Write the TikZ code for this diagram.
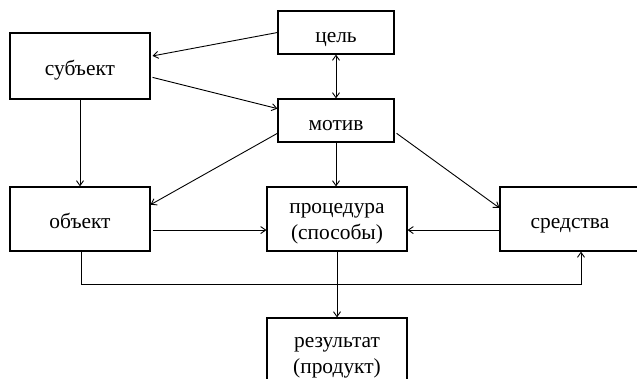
\documentclass[tikz,border=0pt]{standalone}
\usepackage{fontspec}
\setmainfont{Liberation Serif}
\usetikzlibrary{arrows.meta,calc}
\begin{document}
\begin{tikzpicture}[x=1bp,y=-1bp,
  box/.style={draw,line width=1.1bp,minimum width=140bp,minimum height=64bp,inner sep=0pt},
  txt/.style={align=center,inner sep=0pt,yshift=-5bp,font=\fontsize{21.5}{26}\selectfont},
  txtone/.style={txt,text height=14bp,text depth=5bp},
  conn/.style={line width=0.9bp,-{Straight Barb[length=5bp,width=7bp]}},
  biconn/.style={line width=0.9bp,{Straight Barb[length=5bp,width=7bp]}-{Straight Barb[length=5bp,width=7bp]}}]
\useasboundingbox (0,0) rectangle (637,378);
\node[box,minimum height=66bp,label={[txtone]center:субъект}] (subj) at (80,66) {};
\node[box,minimum width=116bp,minimum height=43bp,label={[txtone]center:цель}] (goal) at (336,32.5) {};
\node[box,minimum width=116bp,minimum height=43bp,label={[txtone]center:мотив}] (motiv) at (336,120.5) {};
\node[box,label={[txtone]center:объект}] (obj) at (80,219) {};
\node[box,label={[txt]center:{процедура\\(способы)}}] (proc) at (337,219) {};
\node[box,label={[txtone]center:средства}] (sred) at (570,219) {};
\node[box,minimum height=76bp,label={[txt,yshift=3bp]center:{результат\\(продукт)}}] (res) at (337,356) {};
% connectors
\draw[conn] (goal.west) -- ($(subj.north east)!0.35!(subj.south east)+(2,0)$);
\draw[conn] ($(subj.north east)!0.67!(subj.south east)+(2,0)$) -- ($(motiv.north west)!0.23!(motiv.south west)$);
\draw[biconn] (goal.south) -- (motiv.north);
\draw[conn] (subj.south) -- (obj.north);
\draw[conn] ($(motiv.north west)!0.79!(motiv.south west)$) -- ($(obj.north east)!0.28!(obj.south east)$);
\draw[conn] (motiv.south) -- (motiv.south |- proc.north);
\draw[conn] ($(motiv.north east)!0.79!(motiv.south east)+(2,0)$) -- ($(sred.north west)!0.33!(sred.south west)$);
\coordinate (objout) at ($(obj.north east)!0.67!(obj.south east)+(2,0)$);
\draw[conn] (objout) -- (objout -| proc.west);
\coordinate (sredout) at ($(sred.north west)!0.67!(sred.south west)$);
\draw[conn] (sredout) -- (sredout -| proc.east);
\coordinate (sredin) at ($(sred.south)+(11,0)$);
\draw[conn] ($(obj.south)+(1,0)$) |- (81,284) -| (sredin);
\draw[conn] (proc.south) -- (res.north);
\end{tikzpicture}
\end{document}
